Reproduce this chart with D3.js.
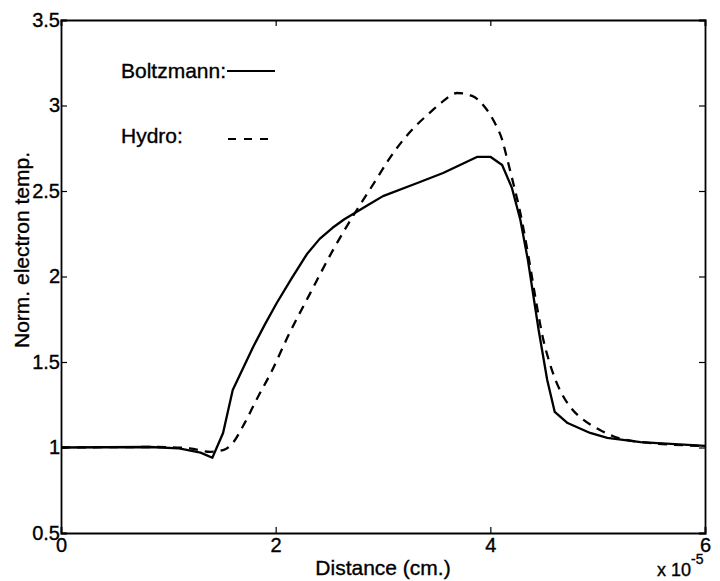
<!DOCTYPE html>
<html>
<head>
<meta charset="utf-8">
<script src="https://cdn.jsdelivr.net/npm/d3@7/dist/d3.min.js"></script>
<style>
  html, body { margin: 0; padding: 0; background: #fff; }
  svg { display: block; font-family: "Liberation Sans", Arial, Helvetica, sans-serif; }
  svg text { fill: #000; stroke: #000; stroke-width: 0.35px; }
</style>
</head>
<body>
<svg id="chart" width="720" height="581"></svg>
<script>
// Distance in units of 1e-5 cm
const boltzX = [0, 0.83, 1.10, 1.30, 1.41, 1.51, 1.60, 1.79, 1.90, 2.01, 2.15, 2.29, 2.41, 2.53, 2.64, 2.76, 2.88, 3.00, 3.32, 3.56, 3.88, 4.00, 4.11, 4.20, 4.28, 4.35, 4.45, 4.53, 4.60, 4.72, 4.93, 5.09, 5.40, 6.00];
const boltzY = [1.00, 1.003, 0.995, 0.97, 0.94, 1.085, 1.336, 1.588, 1.72, 1.845, 1.99, 2.13, 2.22, 2.285, 2.335, 2.38, 2.425, 2.47, 2.547, 2.605, 2.70, 2.70, 2.652, 2.52, 2.33, 2.096, 1.687, 1.395, 1.208, 1.143, 1.085, 1.056, 1.032, 1.009];

const hydroX = [0, 0.90, 1.20, 1.39, 1.51, 1.60, 1.70, 1.83, 1.95, 2.13, 2.32, 2.53, 2.75, 2.93, 3.05, 3.19, 3.32, 3.44, 3.55, 3.69, 3.83, 3.95, 4.04, 4.11, 4.16, 4.20, 4.28, 4.36, 4.43, 4.49, 4.55, 4.61, 4.67, 4.76, 4.86, 5.00, 5.14, 5.40, 6.00];
const hydroY = [1.00, 1.003, 0.995, 0.975, 0.985, 1.026, 1.13, 1.29, 1.43, 1.67, 1.90, 2.15, 2.383, 2.56, 2.68, 2.80, 2.89, 2.96, 3.02, 3.073, 3.056, 2.99, 2.90, 2.80, 2.68, 2.58, 2.37, 2.10, 1.84, 1.64, 1.50, 1.39, 1.31, 1.225, 1.165, 1.11, 1.067, 1.032, 1.009];

const xTicks = [0, 2, 4, 6];
const yTicks = [0.5, 1, 1.5, 2, 2.5, 3, 3.5];

const svg = d3.select("#chart");
const plotL = 61, plotR = 705, plotT = 20, plotB = 533;

const x = d3.scaleLinear().domain([0, 6]).range([plotL, plotR]);
const y = d3.scaleLinear().domain([0.5, 3.5]).range([plotB, plotT]);

const tickFont = 20;

// Axes with inward ticks on all four sides
const gx = svg.append("g").attr("transform", `translate(0,${plotB})`)
  .call(d3.axisBottom(x).tickValues(xTicks).tickSize(-6).tickPadding(5).tickFormat(d3.format("d")));
const gxTop = svg.append("g").attr("transform", `translate(0,${plotT})`)
  .call(d3.axisTop(x).tickValues(xTicks).tickSize(-6).tickFormat(""));
const gy = svg.append("g").attr("transform", `translate(${plotL},0)`)
  .call(d3.axisLeft(y).tickValues(yTicks).tickSize(-6).tickPadding(1).tickFormat(d => d3.format("")(d)));
const gyRight = svg.append("g").attr("transform", `translate(${plotR},0)`)
  .call(d3.axisRight(y).tickValues(yTicks).tickSize(-6).tickFormat(""));

[gx, gxTop, gy, gyRight].forEach(g => {
  g.select(".domain").attr("stroke", "#000").attr("stroke-width", 1.8);
  g.selectAll(".tick line").attr("stroke", "#000").attr("stroke-width", 1.2);
  g.selectAll(".tick text").attr("font-size", tickFont)
    .attr("font-family", "Liberation Sans, Arial, sans-serif");
});

// Curves
const boltzData = boltzX.map((d, i) => [d, boltzY[i]]);
const hydroData = hydroX.map((d, i) => [d, hydroY[i]]);

const lineLin = d3.line().x(d => x(d[0])).y(d => y(d[1])).curve(d3.curveLinear);
const lineSmooth = d3.line().x(d => x(d[0])).y(d => y(d[1])).curve(d3.curveMonotoneX);

svg.append("path").datum(hydroData)
  .attr("d", lineSmooth)
  .attr("fill", "none").attr("stroke", "#000").attr("stroke-width", 2.3)
  .attr("stroke-dasharray", "9,7");

svg.append("path").datum(boltzData)
  .attr("d", lineLin)
  .attr("fill", "none").attr("stroke", "#000").attr("stroke-width", 2.3)
  .attr("stroke-linejoin", "round");

// Legend
const legend = svg.append("g").attr("font-size", 21);
legend.append("text").attr("x", 121).attr("y", 78).text("Boltzmann:");
legend.append("line").attr("x1", 227).attr("x2", 275).attr("y1", 71).attr("y2", 71)
  .attr("stroke", "#000").attr("stroke-width", 2);
legend.append("text").attr("x", 121).attr("y", 143).text("Hydro:");
legend.append("line").attr("x1", 228).attr("x2", 274).attr("y1", 139).attr("y2", 139)
  .attr("stroke", "#000").attr("stroke-width", 2).attr("stroke-dasharray", "8,8");

// Axis titles
svg.append("text").attr("x", 383).attr("y", 575).attr("text-anchor", "middle")
  .attr("font-size", 21).text("Distance (cm.)");
svg.append("text").attr("transform", "translate(29,250) rotate(-90)")
  .attr("text-anchor", "middle").attr("font-size", 21).text("Norm. electron temp.");

// Exponent note
const expo = svg.append("text").attr("x", 657).attr("y", 576).attr("font-size", 18);
expo.append("tspan").text("x 10");
expo.append("tspan").attr("dy", -12).attr("font-size", 14).text("-5");
</script>
</body>
</html>
